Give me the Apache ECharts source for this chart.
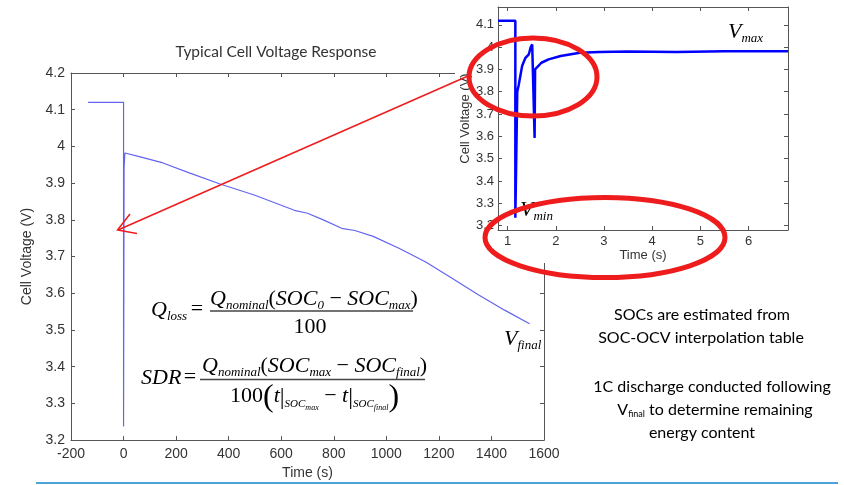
<!DOCTYPE html>
<html>
<head>
<meta charset="utf-8">
<script src="https://cdn.jsdelivr.net/npm/echarts@6/dist/echarts.min.js"></script>
<style>
  html, body { margin: 0; padding: 0; background: #fff; }
  #chart { width: 844px; height: 485px; }
</style>
</head>
<body>
<div id="chart"></div>
<script>
// main plot: cell voltage over the whole rest period
const mainTime = [-135, 0, 0, 2, 5, 60, 150, 250, 370, 500, 650, 700, 760, 830, 880, 950, 1050, 1150, 1250, 1350, 1450, 1545];
const mainVolt = [4.12, 4.12, 3.237, 3.94, 3.982, 3.972, 3.955, 3.928, 3.897, 3.867, 3.826, 3.818, 3.8, 3.777, 3.771, 3.755, 3.722, 3.685, 3.641, 3.596, 3.554, 3.517];

// inset: first seconds after the pulse
const insetTime = [0.8, 1.16, 1.16, 1.2, 1.23, 1.3, 1.37, 1.44, 1.48, 1.51, 1.56, 1.57, 1.62, 1.7, 1.85, 2.1, 2.5, 2.9, 3.5, 4.5, 5.5, 6.82];
const insetVolt = [4.118, 4.118, 3.235, 3.8, 3.83, 3.915, 3.952, 3.968, 4.0, 4.012, 3.593, 3.9, 3.912, 3.93, 3.945, 3.96, 3.975, 3.978, 3.98, 3.978, 3.982, 3.982];

const insetXTicks = [1, 2, 3, 4, 5, 6];
const insetYTicks = [3.2, 3.3, 3.4, 3.5, 3.6, 3.7, 3.8, 3.9, 4.0, 4.1];

const sans = 'Liberation Sans';
const serif = 'Liberation Serif';
const slide = 'Lato';
const axisColor = '#555';
const textColor = '#333';
const red = '#ee1c1c';

function pairs(xs, ys) {
  const arr = [];
  for (let i = 0; i < xs.length; i++) {
    arr.push([xs[i], ys[i]]);
  }
  return arr;
}

function plain(v) {
  return String(+v.toFixed(2));
}

function boxAxis(extra) {
  return Object.assign({
    type: 'value',
    axisLine: { onZero: false, lineStyle: { color: axisColor, width: 1 } },
    axisTick: { inside: true, length: 4, lineStyle: { color: axisColor } },
    axisLabel: { fontFamily: sans, fontSize: 14, color: textColor, formatter: plain },
    splitLine: { show: false }
  }, extra);
}

const mathRich = {
  i: { fontFamily: serif, fontStyle: 'italic', fontSize: 22, color: '#222' },
  r: { fontFamily: serif, fontSize: 22, color: '#222' },
  s: { fontFamily: serif, fontStyle: 'italic', fontSize: 13, color: '#222', padding: [14, 0, 0, 0] },
  bp: { fontFamily: serif, fontSize: 32, color: '#222', padding: [4, 0, 0, 0] },
  bar: { fontFamily: serif, fontSize: 24, color: '#222', padding: [4, 0, 0, 0] },
  ss: { fontFamily: serif, fontStyle: 'italic', fontSize: 11, color: '#222', padding: [16, 0, 0, 0] },
  sss: { fontFamily: serif, fontStyle: 'italic', fontSize: 8, color: '#222', padding: [24, 0, 0, 0] }
};

function mathText(x, y, text, align) {
  return {
    type: 'text', x: x, y: y, z: 5,
    style: { text: text, rich: mathRich, align: align || 'left', verticalAlign: 'middle' }
  };
}

function slideText(x, y, text) {
  return {
    type: 'text', x: x, y: y, z: 5,
    style: {
      text: text, align: 'center', verticalAlign: 'middle',
      rich: {
        t: { fontFamily: slide, fontSize: 16, color: '#222' },
        sub: { fontFamily: slide, fontSize: 9, color: '#222', padding: [8, 0, 0, 0] }
      }
    }
  };
}

const chart = echarts.init(document.getElementById('chart'));
const option = {
  animation: false,
  backgroundColor: '#fff',
  grid: [
    { left: 71, top: 73, width: 473, height: 370 },
    { left: 498, top: 7, width: 290, height: 223 }
  ],
  xAxis: [
    boxAxis({
      gridIndex: 0, position: 'bottom', min: -200, max: 1600, interval: 200,
      name: 'Time (s)', nameLocation: 'middle', nameGap: 24,
      nameTextStyle: { fontFamily: sans, fontSize: 14, color: textColor },
      axisLabel: { fontFamily: sans, fontSize: 14, color: textColor, margin: 7, formatter: plain }
    }),
    boxAxis({
      gridIndex: 0, position: 'top', min: -200, max: 1600, interval: 200,
      axisLabel: { show: false }
    }),
    boxAxis({
      gridIndex: 1, position: 'bottom', min: 0.8, max: 6.82, z: 2,
      name: 'Time (s)', nameLocation: 'middle', nameGap: 18,
      nameTextStyle: { fontFamily: sans, fontSize: 13, color: textColor },
      axisTick: { inside: true, length: 4, lineStyle: { color: axisColor }, customValues: insetXTicks },
      axisLabel: { fontFamily: sans, fontSize: 13, color: textColor, margin: 5, customValues: insetXTicks, formatter: plain }
    }),
    boxAxis({
      gridIndex: 1, position: 'top', min: 0.8, max: 6.82, z: 2,
      axisTick: { inside: true, length: 4, lineStyle: { color: axisColor }, customValues: insetXTicks },
      axisLabel: { show: false }
    })
  ],
  yAxis: [
    boxAxis({
      gridIndex: 0, position: 'left', min: 3.2, max: 4.2, interval: 0.1,
      name: 'Cell Voltage (V)', nameLocation: 'middle', nameGap: 32,
      nameTextStyle: { fontFamily: sans, fontSize: 14, color: textColor },
      axisLabel: { fontFamily: sans, fontSize: 14, color: textColor, margin: 6, formatter: plain }
    }),
    boxAxis({
      gridIndex: 0, position: 'right', min: 3.2, max: 4.2, interval: 0.1,
      axisLabel: { show: false }
    }),
    boxAxis({
      gridIndex: 1, position: 'left', min: 3.18, max: 4.18, z: 2,
      name: 'Cell Voltage (V)', nameLocation: 'middle', nameGap: 26,
      nameTextStyle: { fontFamily: sans, fontSize: 13, color: textColor },
      axisTick: { inside: true, length: 4, lineStyle: { color: axisColor }, customValues: insetYTicks },
      axisLabel: { fontFamily: sans, fontSize: 13, color: textColor, margin: 4, customValues: insetYTicks, formatter: plain }
    }),
    boxAxis({
      gridIndex: 1, position: 'right', min: 3.18, max: 4.18, z: 2,
      axisTick: { inside: true, length: 4, lineStyle: { color: axisColor }, customValues: insetYTicks },
      axisLabel: { show: false }
    })
  ],
  series: [
    {
      type: 'line',
      xAxisIndex: 0,
      yAxisIndex: 0,
      data: pairs(mainTime, mainVolt),
      symbol: 'none',
      lineStyle: { color: '#6464f0', width: 1.2 }
    },
    {
      type: 'line',
      xAxisIndex: 2,
      yAxisIndex: 2,
      z: 3,
      data: pairs(insetTime, insetVolt),
      symbol: 'none',
      lineStyle: { color: '#0000ff', width: 2.5 }
    }
  ],
  graphic: [
    // white card behind the inset, it hides the corner of the main frame
    { type: 'rect', z: 1, shape: { x: 455, y: 0, width: 389, height: 263 }, style: { fill: '#fff' } },
    {
      type: 'text', x: 276, y: 52, z: 5,
      style: { text: 'Typical Cell Voltage Response', fontFamily: slide, fontSize: 15.5, fill: textColor, align: 'center', verticalAlign: 'middle' }
    },
    // formulas
    mathText(151, 310, '{i|Q}{s|loss}'),
    mathText(197, 309, '{r|=}', 'center'),
    mathText(210, 299, '{i|Q}{s|nominal}{r|(}{i|SOC}{s|0}{r| − }{i|SOC}{s|max}{r|)}'),
    { type: 'line', z: 5, shape: { x1: 210, y1: 311, x2: 413, y2: 311 }, style: { stroke: '#444', lineWidth: 1.3 } },
    mathText(310, 327, '{r|100}', 'center'),
    mathText(141, 378, '{i|SDR}'),
    mathText(190, 377, '{r|=}', 'center'),
    mathText(202, 366, '{i|Q}{s|nominal}{r|(}{i|SOC}{s|max}{r| − }{i|SOC}{s|final}{r|)}'),
    { type: 'line', z: 5, shape: { x1: 200, y1: 379.5, x2: 425, y2: 379.5 }, style: { stroke: '#444', lineWidth: 1.3 } },
    mathText(230, 396, '{r|100}{bp|(}{i|t}{bar||}{ss|SOC}{sss|max}{r| − }{i|t}{bar||}{ss|SOC}{sss|final}{bp|)}'),
    // curve labels
    mathText(504, 339, '{i|V}{s|final}'),
    mathText(728, 32, '{i|V}{s|max}'),
    mathText(520, 210, '{i|V}{s|min}'),
    // slide notes
    slideText(702, 315, '{t|SOCs are estimated from}'),
    slideText(701, 338, '{t|SOC-OCV interpolation table}'),
    slideText(712, 387, '{t|1C discharge conducted following}'),
    slideText(715, 410, '{t|V}{sub|final}{t| to determine remaining}'),
    slideText(702, 433, '{t|energy content}'),
    // red highlights
    { type: 'ellipse', z: 6, shape: { cx: 533, cy: 77, rx: 64, ry: 39 }, style: { fill: null, stroke: red, lineWidth: 5 } },
    { type: 'ellipse', z: 6, shape: { cx: 605, cy: 237.5, rx: 120, ry: 40 }, style: { fill: null, stroke: red, lineWidth: 5 } },
    { type: 'line', z: 6, shape: { x1: 468, y1: 76, x2: 118, y2: 230 }, style: { stroke: red, lineWidth: 1.5 } },
    { type: 'polyline', z: 6, shape: { points: [[130, 214], [117.5, 230], [137, 233.5]] }, style: { fill: null, stroke: red, lineWidth: 1.5 } },
    // slide footer rule
    { type: 'line', z: 5, shape: { x1: 36, y1: 483, x2: 838, y2: 483 }, style: { stroke: '#4fa3dc', lineWidth: 2 } }
  ]
};
chart.setOption(option);
</script>
</body>
</html>
